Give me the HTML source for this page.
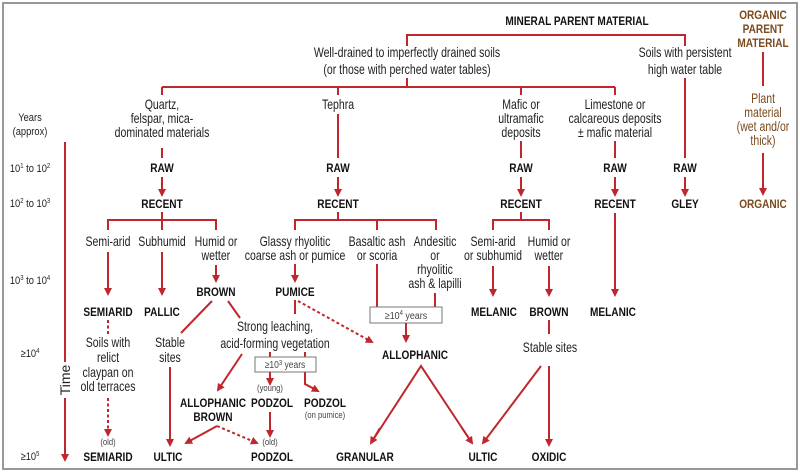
<!DOCTYPE html>
<html><head><meta charset="utf-8"><style>
html,body{margin:0;padding:0;background:#fff;}
svg{display:block;}
text{font-family:"Liberation Sans",sans-serif;text-anchor:middle;fill:#222;}
.n{font-size:13.5px;transform-box:fill-box;transform-origin:center;transform:scaleX(.78);}
.b{font-size:12px;font-weight:bold;fill:#111;transform-box:fill-box;transform-origin:center;transform:scaleX(.84);}
.s{font-size:9px;fill:#444;transform-box:fill-box;transform-origin:center;transform:scaleX(.85);}
.y{font-size:11px;transform-box:fill-box;transform-origin:center;transform:scaleX(.85);}
.o{fill:#7a4a1e;}
line,polyline,path{stroke:#c0272d;stroke-width:2;fill:none;}
.d{stroke-dasharray:3,2.5;}
</style></head><body>
<svg width="800" height="472" viewBox="0 0 800 472" xmlns="http://www.w3.org/2000/svg">
<defs><marker id="a" markerWidth="8" markerHeight="8" refX="6" refY="4" orient="auto" markerUnits="userSpaceOnUse" viewBox="0 0 8 8"><path d="M0,0 L8,4 L0,8 Z" style="fill:#c0272d;stroke:none"/></marker></defs>
<rect x="3" y="3" width="794" height="466" fill="none" stroke="#999" stroke-width="2"/>

<text class="b" x="577" y="25">MINERAL PARENT MATERIAL</text>
<polyline points="407,46 407,35 685,35 685,46"/>
<text class="n" x="407" y="57">Well-drained to imperfectly drained soils</text>
<text class="n" x="407" y="74">(or those with perched water tables)</text>
<text class="n" x="685" y="57">Soils with persistent</text>
<text class="n" x="685" y="74">high water table</text>
<line x1="407" y1="78" x2="407" y2="87"/>
<line x1="162" y1="87" x2="615" y2="87"/>
<line x1="162" y1="87" x2="162" y2="95"/>
<line x1="338" y1="87" x2="338" y2="95"/>
<line x1="521" y1="87" x2="521" y2="95"/>
<line x1="615" y1="87" x2="615" y2="95"/>

<text class="b o" x="763" y="19">ORGANIC</text>
<text class="b o" x="763" y="33">PARENT</text>
<text class="b o" x="763" y="47">MATERIAL</text>
<line x1="763" y1="52" x2="763" y2="86"/>
<text class="n o" x="763" y="103">Plant</text>
<text class="n o" x="763" y="117">material</text>
<text class="n o" x="763" y="131">(wet and/or</text>
<text class="n o" x="763" y="145">thick)</text>
<line x1="763" y1="153" x2="763" y2="194" marker-end="url(#a)"/>
<text class="b o" x="763" y="208">ORGANIC</text>

<text class="y" x="30" y="121">Years</text>
<text class="y" x="30" y="135">(approx)</text>
<text class="y" x="30" y="172">10<tspan dy="-4" font-size="7">1</tspan><tspan dy="4"> to 10</tspan><tspan dy="-4" font-size="7">2</tspan></text>
<text class="y" x="30" y="207">10<tspan dy="-4" font-size="7">2</tspan><tspan dy="4"> to 10</tspan><tspan dy="-4" font-size="7">3</tspan></text>
<text class="y" x="30" y="284">10<tspan dy="-4" font-size="7">3</tspan><tspan dy="4"> to 10</tspan><tspan dy="-4" font-size="7">4</tspan></text>
<text class="y" x="30" y="357">≥10<tspan dy="-4" font-size="7">4</tspan></text>
<text class="y" x="30" y="460">≥10<tspan dy="-4" font-size="7">5</tspan></text>
<line x1="65" y1="142" x2="65" y2="460" marker-end="url(#a)"/>
<rect x="58" y="362" width="14" height="36" fill="#fff"/>
<g transform="translate(70,380) rotate(-90)"><text x="0" y="0" style="font-size:14px;fill:#222">Time</text></g>

<!-- column 1 -->
<text class="n" x="162" y="109">Quartz,</text>
<text class="n" x="162" y="123">felspar, mica-</text>
<text class="n" x="162" y="137">dominated materials</text>
<line x1="162" y1="148" x2="162" y2="158"/>
<text class="b" x="162" y="172">RAW</text>
<line x1="162" y1="177" x2="162" y2="195" marker-end="url(#a)"/>
<text class="b" x="162" y="208">RECENT</text>
<line x1="162" y1="212" x2="162" y2="220"/>
<polyline points="108,230 108,220 216,220 216,230"/>
<line x1="162" y1="220" x2="162" y2="230"/>
<text class="n" x="108" y="246">Semi-arid</text>
<text class="n" x="162" y="246">Subhumid</text>
<text class="n" x="216" y="246">Humid or</text>
<text class="n" x="216" y="260">wetter</text>
<line x1="108" y1="252" x2="108" y2="294" marker-end="url(#a)"/>
<line x1="162" y1="252" x2="162" y2="294" marker-end="url(#a)"/>
<line x1="216" y1="265" x2="216" y2="281" marker-end="url(#a)"/>
<text class="b" x="216" y="296">BROWN</text>
<text class="b" x="108" y="316">SEMIARID</text>
<text class="b" x="162" y="316">PALLIC</text>
<line class="d" x1="108" y1="320" x2="108" y2="335"/>
<text class="n" x="108" y="347">Soils with</text>
<text class="n" x="108" y="362">relict</text>
<text class="n" x="108" y="377">claypan on</text>
<text class="n" x="108" y="391">old terraces</text>
<line class="d" x1="108" y1="398" x2="108" y2="435" marker-end="url(#a)"/>
<text class="s" x="108" y="445">(old)</text>
<text class="b" x="108" y="461">SEMIARID</text>
<line x1="212" y1="301" x2="181" y2="333"/>
<text class="n" x="170" y="347">Stable</text>
<text class="n" x="170" y="362">sites</text>
<line x1="170" y1="367" x2="170" y2="445" marker-end="url(#a)"/>
<text class="b" x="168" y="461">ULTIC</text>
<line x1="228" y1="301" x2="240" y2="318"/>
<text class="n" x="275" y="331">Strong leaching,</text>
<text class="n" x="275" y="348">acid-forming vegetation</text>
<line x1="242" y1="354" x2="218" y2="390" marker-end="url(#a)"/>
<text class="b" x="213" y="407">ALLOPHANIC</text>
<text class="b" x="213" y="421">BROWN</text>
<line x1="270" y1="352" x2="270" y2="357"/>
<line x1="305" y1="352" x2="305" y2="357"/>
<rect x="255" y="357" width="61" height="15" fill="#fff" stroke="#777" stroke-width="1"/>
<text class="s" x="285" y="368" style="font-size:10px">≥10<tspan dy="-3" font-size="7">3</tspan><tspan dy="3"> years</tspan></text>
<line x1="270" y1="372" x2="270" y2="384" marker-end="url(#a)"/>
<polyline points="305,372 305,384 318,391" marker-end="url(#a)"/>
<text class="s" x="270" y="391">(young)</text>
<text class="b" x="272" y="407">PODZOL</text>
<text class="b" x="325" y="407">PODZOL</text>
<text class="s" x="325" y="418">(on pumice)</text>
<line x1="270" y1="412" x2="270" y2="436" marker-end="url(#a)"/>
<text class="s" x="270" y="445">(old)</text>
<text class="b" x="272" y="461">PODZOL</text>
<line x1="217" y1="426" x2="186" y2="443" marker-end="url(#a)"/>
<line class="d" x1="217" y1="426" x2="257" y2="443" marker-end="url(#a)"/>

<!-- tephra -->
<text class="n" x="338" y="109">Tephra</text>
<line x1="338" y1="114" x2="338" y2="158"/>
<text class="b" x="338" y="172">RAW</text>
<line x1="338" y1="177" x2="338" y2="195" marker-end="url(#a)"/>
<text class="b" x="338" y="208">RECENT</text>
<line x1="338" y1="212" x2="338" y2="220"/>
<polyline points="295,230 295,220 436,220 436,230"/>
<line x1="377" y1="220" x2="377" y2="230"/>
<text class="n" x="295" y="246">Glassy rhyolitic</text>
<text class="n" x="295" y="260">coarse ash or pumice</text>
<line x1="295" y1="264" x2="295" y2="281" marker-end="url(#a)"/>
<text class="b" x="295" y="296">PUMICE</text>
<line x1="295" y1="300" x2="295" y2="314"/>
<line class="d" x1="298" y1="301" x2="372" y2="342" marker-end="url(#a)"/>
<text class="n" x="377" y="246">Basaltic ash</text>
<text class="n" x="377" y="260">or scoria</text>
<line x1="377" y1="264" x2="377" y2="307"/>
<text class="n" x="435" y="246">Andesitic</text>
<text class="n" x="435" y="260">or</text>
<text class="n" x="435" y="274">rhyolitic</text>
<text class="n" x="435" y="288">ash &amp; lapilli</text>
<line x1="435" y1="293" x2="435" y2="307"/>
<rect x="370" y="307" width="72" height="16" fill="#fff" stroke="#777" stroke-width="1"/>
<text class="s" x="406" y="319" style="font-size:10.5px">≥10<tspan dy="-4" font-size="7">4</tspan><tspan dy="4">  years</tspan></text>
<line x1="406" y1="323" x2="406" y2="341" marker-end="url(#a)"/>
<text class="b" x="415" y="359">ALLOPHANIC</text>
<polyline points="371,443 421,366 472,443"/>
<line x1="380" y1="428" x2="371" y2="443" marker-end="url(#a)"/>
<line x1="462" y1="428" x2="472" y2="443" marker-end="url(#a)"/>
<text class="b" x="365" y="461">GRANULAR</text>
<text class="b" x="483" y="461">ULTIC</text>

<!-- mafic -->
<text class="n" x="521" y="109">Mafic or</text>
<text class="n" x="521" y="123">ultramafic</text>
<text class="n" x="521" y="137">deposits</text>
<line x1="521" y1="141" x2="521" y2="158"/>
<text class="b" x="521" y="172">RAW</text>
<line x1="521" y1="177" x2="521" y2="195" marker-end="url(#a)"/>
<text class="b" x="521" y="208">RECENT</text>
<line x1="521" y1="212" x2="521" y2="220"/>
<polyline points="493,230 493,220 549,220 549,230"/>
<text class="n" x="493" y="246">Semi-arid</text>
<text class="n" x="493" y="260">or subhumid</text>
<text class="n" x="549" y="246">Humid or</text>
<text class="n" x="549" y="260">wetter</text>
<line x1="493" y1="266" x2="493" y2="295" marker-end="url(#a)"/>
<line x1="549" y1="266" x2="549" y2="295" marker-end="url(#a)"/>
<text class="b" x="494" y="316">MELANIC</text>
<text class="b" x="549" y="316">BROWN</text>
<line x1="549" y1="320" x2="549" y2="334"/>
<text class="n" x="550" y="352">Stable sites</text>
<line x1="541" y1="366" x2="483" y2="443" marker-end="url(#a)"/>
<line x1="549" y1="366" x2="549" y2="445" marker-end="url(#a)"/>
<text class="b" x="549" y="461">OXIDIC</text>

<!-- limestone -->
<text class="n" x="615" y="109">Limestone or</text>
<text class="n" x="615" y="123">calcareous deposits</text>
<text class="n" x="615" y="137">± mafic  material</text>
<line x1="615" y1="141" x2="615" y2="158"/>
<text class="b" x="615" y="172">RAW</text>
<line x1="615" y1="177" x2="615" y2="195" marker-end="url(#a)"/>
<text class="b" x="615" y="208">RECENT</text>
<line x1="615" y1="213" x2="615" y2="295" marker-end="url(#a)"/>
<text class="b" x="613" y="316">MELANIC</text>

<!-- gley -->
<line x1="685" y1="78" x2="685" y2="158"/>
<text class="b" x="685" y="172">RAW</text>
<line x1="685" y1="177" x2="685" y2="195" marker-end="url(#a)"/>
<text class="b" x="685" y="208">GLEY</text>
</svg>
</body></html>
